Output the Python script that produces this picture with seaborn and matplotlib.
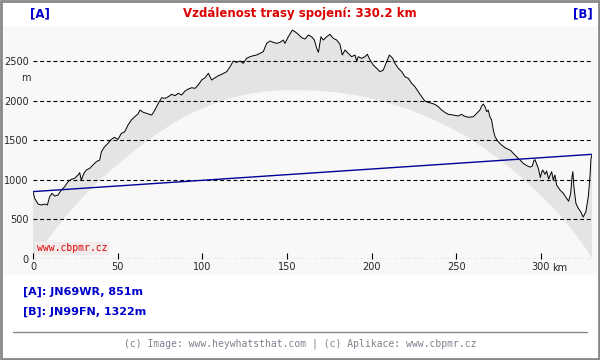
import numpy as np
import matplotlib
matplotlib.use("Agg")
import matplotlib.pyplot as plt
from matplotlib.patches import Rectangle
from matplotlib.lines import Line2D
import seaborn as sns

# terrain profile as drawn (km, m incl. earth curvature)
terrain_km = [0, 1, 3, 5, 7, 8.5, 9.8, 11.2, 12.8, 14.8, 16.7, 18.7, 20.7, 22.6, 24.6,
              26.6, 27.6, 28.5, 30.1, 31.5, 33.5, 35.4, 37.4, 39.4, 40.4, 42.3, 44.3,
              46.3, 48.2, 50.2, 52.2, 54.2, 56.1, 58.1, 60.1, 62.0, 63.2, 65.2, 67.1,
              70.1, 72.0, 74.0, 76.0, 78.0, 79.9, 81.9, 83.9, 85.8, 87.8, 89.8, 91.7,
              93.7, 95.7, 97.6, 99.6, 101.6, 103.6, 105.5, 107.5, 109.5, 111.4, 114.4,
              116.4, 118.3, 120.3, 122.3, 124.2, 126.2, 128.2, 130.1, 132.1, 134.1,
              136.0, 138.0, 140.0, 142.0, 143.9, 145.9, 147.8, 148.8, 150.8, 153.2,
              154.8, 156.7, 158.7, 160.7, 162.6, 164.6, 166.2, 167.6, 168.6, 170.1,
              171.5, 173.5, 175.4, 177.4, 179.4, 181.3, 182.7, 184.3, 186.2, 188.2,
              190.2, 191.2, 192.1, 194.1, 196.1, 197.5, 199.1, 201.0, 203.0, 205.0,
              206.9, 208.9, 210.5, 212.5, 213.8, 215.8, 217.8, 219.7, 221.7, 223.7,
              225.6, 227.6, 229.6, 231.5, 233.5, 235.5, 237.4, 239.4, 241.4, 243.4,
              245.3, 248.3, 251.2, 253.2, 254.6, 257.1, 260.1, 262.1, 264.0, 265.0,
              266.0, 267.0, 268.0, 268.9, 269.9, 270.9, 271.9, 272.9, 274.8, 276.8,
              278.8, 280.8, 282.2, 283.7, 285.7, 287.7, 289.6, 291.6, 293.6, 295.0,
              295.8, 296.5, 297.5, 298.5, 299.7, 300.5, 301.1, 302.4, 303.4, 304.6,
              305.5, 306.4, 307.3, 308.3, 309.3, 311.3, 313.3, 315.2, 316.4, 317.6,
              318.4, 318.9, 319.5, 320.7, 322.1, 323.5, 325.0, 326.6, 328.0, 329.0,
              329.6, 330.2]
terrain_m = [850, 766, 694, 682, 694, 682, 787, 829, 795, 808, 871, 913, 976, 1006, 1019,
             1061, 1090, 997, 1082, 1124, 1145, 1187, 1229, 1250, 1355, 1418, 1461,
             1511, 1536, 1511, 1587, 1607, 1692, 1755, 1797, 1831, 1881, 1852, 1839,
             1818, 1881, 1966, 2037, 2029, 2049, 2080, 2062, 2092, 2071, 2121, 2146,
             2163, 2155, 2197, 2260, 2289, 2345, 2260, 2289, 2314, 2332, 2365,
             2428, 2500, 2483, 2500, 2471, 2534, 2555, 2567, 2576, 2597,
             2618, 2723, 2753, 2736, 2723, 2736, 2765, 2723, 2807, 2891,
             2870, 2837, 2795, 2778, 2828, 2807, 2765, 2660, 2610, 2807,
             2765, 2807, 2837, 2786, 2765, 2712, 2576, 2639, 2597, 2555,
             2576, 2500, 2555, 2534, 2555, 2585, 2513, 2449, 2408, 2365,
             2386, 2491, 2576, 2534, 2471, 2408, 2365, 2302, 2281, 2218,
             2176, 2113, 2049, 1995, 1978, 1966, 1953, 1923, 1881, 1850,
             1827, 1818, 1806, 1827, 1806, 1789, 1797, 1839, 1881, 1932,
             1957, 1923, 1860, 1881, 1797, 1755, 1629, 1544, 1481, 1439,
             1406, 1385, 1370, 1334, 1292, 1250, 1208, 1180, 1160, 1175,
             1240, 1255, 1200, 1145, 1030, 1100, 1124, 1070, 1110, 1010,
             1060, 1103, 997, 1061, 934, 871, 829, 766, 730, 829,
             1039, 1103, 913, 703, 640, 597, 530, 597, 787, 1039,
             1271, 1322]

# earth bulge (sea level line)
bulge_km = [0, 8.2, 18.9, 29.7, 39.5, 51.2, 61.9, 72.7, 83.4, 94.2, 104.9, 115.7, 126.5,
            137.2, 148, 158.7, 169.5, 180.2, 191, 201.7, 212.5, 223.2, 234, 244.7, 255.5,
            266.2, 277, 287.7, 298.5, 309.2, 320, 326.5, 330.2]
bulge_m = [0, 230, 530, 790, 1000, 1214, 1404, 1574, 1722, 1849, 1946, 2026, 2081,
           2115, 2132, 2132, 2124, 2102, 2068, 2018, 1954, 1878, 1785, 1679, 1552,
           1404, 1235, 1045, 833, 601, 326, 135, 0]

# line of sight A -> B
los_km = [0, 330.2]
los_m = [851, 1322]

x_ticks = [0, 50, 100, 150, 200, 250, 300]
y_ticks = [0, 500, 1000, 1500, 2000, 2500]

sns.set_style("white")
plt.rcParams['font.family'] = ['DejaVu Sans']

W, H = 600, 360
fig = plt.figure(figsize=(6, 3.6), dpi=100)
fig.patch.set_facecolor('white')


def fy(px):
    return 1 - px / H


# grey panel behind the chart
fig.add_artist(Rectangle((3 / W, fy(275)), 594 / W, 249 / H, transform=fig.transFigure,
                         facecolor='#f8f8f8', edgecolor='none', zorder=-5))
# outer frame
fig.add_artist(Rectangle((0.0015, 0.0025), 0.997, 0.995, transform=fig.transFigure,
                         facecolor='none', edgecolor='#888888', lw=2, zorder=10))

ax = fig.add_axes([33 / W, fy(259), 559 / W, 234 / H])
ax.set_facecolor('none')
ax.set_xlim(0, 330.2)
ax.set_ylim(0, 2955)

ax.fill(np.concatenate([terrain_km, bulge_km[::-1]]),
        np.concatenate([terrain_m, bulge_m[::-1]]),
        color='#e4e4e4', lw=0, zorder=1)
sns.lineplot(x=terrain_km, y=terrain_m, ax=ax, color='black', lw=0.7, sort=False,
             estimator=None, zorder=3)
sns.lineplot(x=los_km, y=los_m, ax=ax, color='#000099', lw=1, sort=False,
             estimator=None, zorder=4)

ax.set_xticks(x_ticks)
ax.set_yticks(y_ticks)
ax.yaxis.grid(True, color='black', lw=0.8, linestyle=(0, (3.5, 2.5)))
ax.set_axisbelow(False)
ax.tick_params(axis='x', direction='in', length=4, width=0.8, color='black',
               labelsize=7, pad=2, bottom=True)
ax.tick_params(axis='y', length=0, labelsize=7, pad=3)
for s in ax.spines.values():
    s.set_visible(False)
ax.set_xlabel('')
ax.set_ylabel('')

ax.annotate('km', xy=(300, 0), xycoords='data', xytext=(11, -9),
            textcoords='offset pixels', fontsize=7, ha='left', va='center')
ax.annotate('m', xy=(0, 2290), xycoords='data', xytext=(-7, 0),
            textcoords='offset pixels', fontsize=7, ha='center', va='center')
ax.text(2.3, 135, 'www.cbpmr.cz', family='DejaVu Sans Mono', fontsize=7, color='#dd0000',
        ha='left', va='center', zorder=5,
        bbox=dict(facecolor='#f2ebeb', edgecolor='none', pad=1.2))

# header
fig.text(0.5, fy(14), 'Vzdálenost trasy spojení: 330.2 km', color='#dd0000',
         fontsize=8.5, fontweight='bold', ha='center', va='center')
fig.text(40 / W, fy(14), '[A]', color='#0000cc', fontsize=8.5, fontweight='bold',
         ha='center', va='center')
fig.text(583 / W, fy(14), '[B]', color='#0000cc', fontsize=8.5, fontweight='bold',
         ha='center', va='center')

# station info
fig.text(23 / W, fy(292), '[A]: JN69WR, 851m', color='#0000cc', fontsize=8,
         fontweight='bold', ha='left', va='center')
fig.text(23 / W, fy(312), '[B]: JN99FN, 1322m', color='#0000cc', fontsize=8,
         fontweight='bold', ha='left', va='center')

fig.add_artist(Line2D([13 / W, 587 / W], [fy(332), fy(332)], transform=fig.transFigure,
                      color='#888888', lw=1))
fig.text(0.5, fy(344), '(c) Image: www.heywhatsthat.com | (c) Aplikace: www.cbpmr.cz',
         family='DejaVu Sans Mono', fontsize=7, color='#80808f', ha='center', va='center')

fig.savefig('out.png', dpi=100)
